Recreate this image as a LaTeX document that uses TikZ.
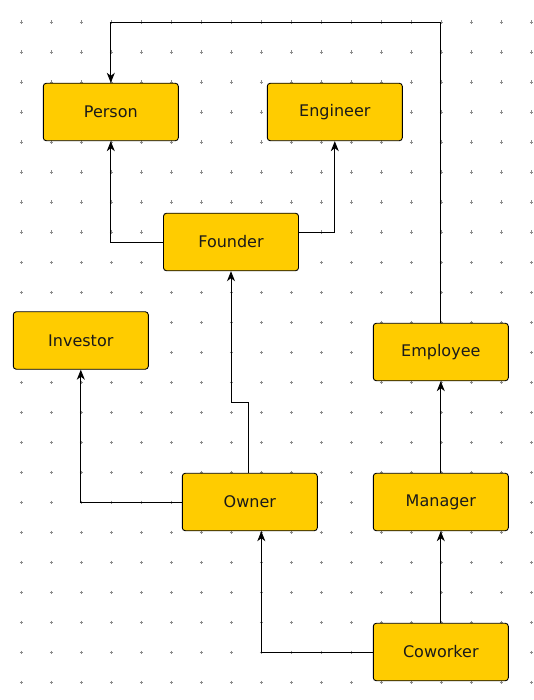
\documentclass[tikz,border=0pt]{standalone}
\usepackage{fontspec}
\setmainfont{DejaVu Sans}
\usetikzlibrary{arrows.meta}
\definecolor{boxfill}{HTML}{FFCC00}
\definecolor{gridmark}{HTML}{8C8C8C}
\definecolor{labeltext}{HTML}{1A1A1A}
\begin{document}
\begin{tikzpicture}[x=1pt,y=-1pt,
  box/.style={draw=black, line width=0.9pt, fill=boxfill, rounded corners=3pt,
    minimum width=135pt, minimum height=57.5pt, inner sep=0pt, text=labeltext,
    font=\fontsize{16}{19}\selectfont},
  link/.style={draw=black, line width=0.9pt, -{Stealth[length=10pt,width=8pt,inset=3pt]}},
  gmark/.style={draw=gridmark, line width=0.5pt}]
\useasboundingbox (0,0) rectangle (533,700);
\foreach \i in {0,...,17} {
  \foreach \j in {0,...,22} {
    \draw[gmark] (21.5+30*\i-1.8, 22.3+30*\j) -- ++(3.6,0)
                 (21.5+30*\i, 22.3+30*\j-1.8) -- ++(0,3.6);
  }
}
\node[box] (person) at (110.8,112) {Person};
\node[box] (engineer) at (334.8,112) {Engineer};
\node[box] (founder) at (231,242) {Founder};
\node[box] (investor) at (80.8,340.5) {Investor};
\node[box] (employee) at (440.8,352) {Employee};
\node[box] (owner) at (249.8,502) {Owner};
\node[box] (manager) at (440.8,502) {Manager};
\node[box] (coworker) at (440.8,652) {Coworker};
\coordinate (top) at (0,22.3);
\coordinate (bend) at (0,402.3);
\draw[link] (founder.west) -| (person.south);
\draw[link] ([yshift=9.7pt]founder.east) -| (engineer.south);
\draw[link] ([xshift=-1.5pt]owner.north) -- ([xshift=-1.5pt]owner.north |- bend) -| (founder.south);
\draw[link] (owner.west) -| (investor.south);
\draw[link] (coworker.west) -| ([xshift=11.5pt]owner.south);
\draw[link] (coworker.north) -- (manager.south);
\draw[link] (manager.north) -- (employee.south);
\draw[link] (employee.north) -- (employee.north |- top) -| (person.north);
\end{tikzpicture}
\end{document}
